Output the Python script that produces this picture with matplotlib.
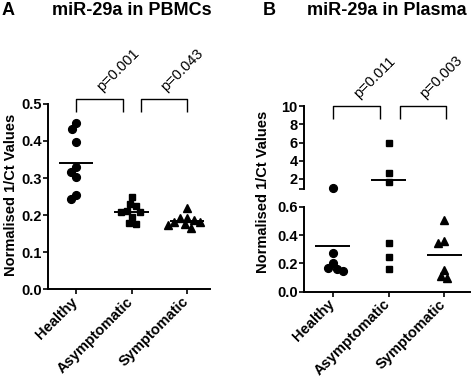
import numpy as np
import matplotlib
matplotlib.use("Agg")
import matplotlib.pyplot as plt
from matplotlib.transforms import ScaledTranslation

plt.rcParams["font.family"] = ["Liberation Sans", "DejaVu Sans"]
plt.rcParams["font.weight"] = "bold"

groups = ["Healthy", "Asymptomatic", "Symptomatic"]

# miR-29a in PBMCs (1/Ct values)
pbmc_healthy = [0.448, 0.432, 0.398, 0.329, 0.317, 0.304, 0.254, 0.242]
pbmc_asymp = [0.248, 0.230, 0.224, 0.212, 0.208, 0.207, 0.195, 0.178, 0.175]
pbmc_symp = [0.218, 0.193, 0.191, 0.186, 0.182, 0.180, 0.175, 0.173, 0.166]
pbmc_pvals = ["p=0.001", "p=0.043"]

# miR-29a in Plasma
plasma_healthy = [1.0, 0.276, 0.202, 0.166, 0.161, 0.149]
plasma_asymp = [6.0, 2.6, 1.6, 0.341, 0.245, 0.161]
plasma_symp = [0.504, 0.360, 0.346, 0.154, 0.113, 0.094]
plasma_pvals = ["p=0.011", "p=0.003"]

markers = ["o", "s", "^"]
msizes = [5.6, 4.8, 6.0]


def swarm(ax, x, vals, diam=7.0):
    # simple beeswarm, worked out in pixels
    vals = np.asarray(vals, dtype=float)
    if len(vals) == 0:
        return vals
    ys = ax.transData.transform(np.column_stack([np.full(len(vals), x), vals]))[:, 1]
    placed = []
    dx = np.zeros(len(vals))
    for i in np.argsort(-vals):
        cands = [0.0]
        for px, py in placed:
            d = abs(ys[i] - py)
            if d < diam:
                w = np.sqrt(diam ** 2 - d ** 2)
                cands += [px - w, px + w]
        cands.sort(key=lambda c: (abs(c), c))
        for c in cands:
            if all((c - px) ** 2 + (ys[i] - py) ** 2 >= diam ** 2 - 1e-6 for px, py in placed):
                dx[i] = c
                break
        placed.append((dx[i], ys[i]))
    x0 = ax.transData.transform((x, 0))[0]
    x1 = ax.transData.transform((x + 1, 0))[0]
    return x + dx / (x1 - x0)


def style(ax):
    for s in ["top", "right"]:
        ax.spines[s].set_visible(False)
    for s in ["left", "bottom"]:
        ax.spines[s].set_linewidth(1.4)
    ax.tick_params(width=1.2, length=3.5, labelsize=10.5, pad=1)


def group_labels(ax):
    ax.set_xticks([1, 2, 3], groups, rotation=45, ha="right", rotation_mode="anchor")
    ax.tick_params(axis="x", pad=0.5)
    shift = ScaledTranslation(-4 / 72, 0, fig.dpi_scale_trans)
    for lab in ax.get_xticklabels():
        lab.set_transform(lab.get_transform() + shift)


def bracket(ax, x1, x2, ytop, ybot, txt):
    ax.plot([x1, x1, x2, x2], [ybot, ytop, ytop, ybot], color="k", lw=1.0,
            clip_on=False, solid_capstyle="butt")
    ax.annotate(txt, xy=((x1 + x2) / 2, ytop), xytext=(3, 4),
                textcoords="offset points", rotation=45, rotation_mode="anchor",
                ha="left", va="bottom", fontsize=10.5, fontweight="normal",
                annotation_clip=False)


def draw_group(ax, x, vals, i):
    xs = swarm(ax, x, vals)
    ax.plot(xs, vals, linestyle="none", marker=markers[i], ms=msizes[i],
            color="k", clip_on=False)


fig = plt.figure(figsize=(4.72, 3.78), dpi=100)

# Panel A
axA = fig.add_axes([0.1017, 0.2354, 0.3433, 0.4895])
axA.set_xlim(0.495, 3.41)
axA.set_ylim(0, 0.5)
style(axA)
pbmc = [pbmc_healthy, pbmc_asymp, pbmc_symp]
for i, vals in enumerate(pbmc):
    draw_group(axA, i + 1, vals, i)
    axA.hlines(np.mean(vals), i + 1 - 0.31, i + 1 + 0.31, color="k", lw=1.4)
axA.set_yticks(np.arange(0, 0.51, 0.1), [f"{v:.1f}" for v in np.arange(0, 0.51, 0.1)])
group_labels(axA)
bracket(axA, 1, 1.84, 0.513, 0.479, pbmc_pvals[0])
bracket(axA, 2.16, 3, 0.513, 0.479, pbmc_pvals[1])

# Panel B, broken y axis
axBl = fig.add_axes([0.644, 0.2283, 0.352, 0.2249])
axBh = fig.add_axes([0.644, 0.4992, 0.352, 0.2196])
lo_top, hi_bot = 0.6, 0.85
axBl.set_xlim(0.486, 3.46)
axBh.set_xlim(0.486, 3.46)
axBl.set_ylim(0, lo_top)
axBh.set_ylim(hi_bot, 10)
style(axBl)
style(axBh)
axBh.spines["bottom"].set_visible(False)
axBh.set_xticks([])
plasma = [plasma_healthy, plasma_asymp, plasma_symp]
for i, vals in enumerate(plasma):
    vals = np.asarray(vals)
    draw_group(axBl, i + 1, vals[vals <= lo_top], i)
    draw_group(axBh, i + 1, vals[vals >= hi_bot], i)
    m = np.mean(vals)
    axm = axBl if m <= lo_top else axBh
    axm.hlines(m, i + 1 - 0.31, i + 1 + 0.31, color="k", lw=1.4)
axBl.set_yticks([0, 0.2, 0.4, 0.6], ["0.0", "0.2", "0.4", "0.6"])
axBh.set_yticks([hi_bot, 2, 4, 6, 8, 10], ["", "2", "4", "6", "8", "10"])
group_labels(axBl)
bracket(axBh, 1, 1.85, 10, 8.6, plasma_pvals[0])
bracket(axBh, 2.2, 3.03, 10, 8.6, plasma_pvals[1])

# titles and axis labels
fig.text(0.004, 0.960, "A", fontsize=13, ha="left", va="baseline")
fig.text(131.5 / 472, 0.960, "miR-29a in PBMCs", fontsize=13, ha="center", va="baseline")
fig.text(0.5566, 0.960, "B", fontsize=13, ha="left", va="baseline")
fig.text(387 / 472, 0.960, "miR-29a in Plasma", fontsize=13, ha="center", va="baseline")
fig.text(0.0229, 0.484, "Normalised 1/Ct Values", rotation=90, fontsize=10.5,
         ha="center", va="center")
fig.text(0.558, 0.492, "Normalised 1/Ct Values", rotation=90, fontsize=10.5,
         ha="center", va="center")

fig.savefig("out.png", dpi=100)
